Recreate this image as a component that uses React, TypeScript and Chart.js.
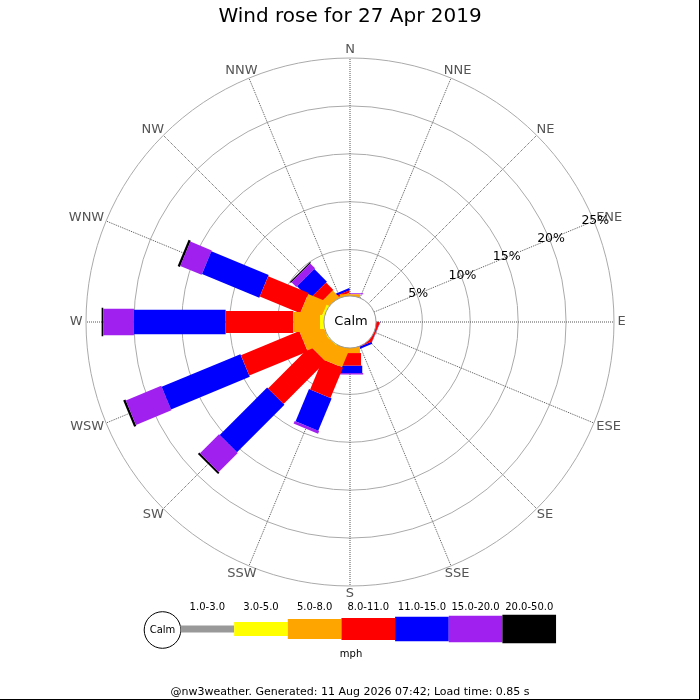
import React, { useEffect, useRef } from 'react';
import { Chart, ArcElement, PolarAreaController, RadialLinearScale, Title, SubTitle } from 'chart.js';

// ---------- data ----------
const TITLE = 'Wind rose for 27 Apr 2019';
const FOOTER = '@nw3weather. Generated: 11 Aug 2026 07:42; Load time: 0.85 s';
const UNIT = 'mph';
const CALM_LABEL = 'Calm';
const DIRECTIONS = ['N', 'NNE', 'NE', 'ENE', 'E', 'ESE', 'SE', 'SSE', 'S', 'SSW', 'SW', 'WSW', 'W', 'WNW', 'NW', 'NNW'];
const SPEED_CLASSES = ['1.0-3.0', '3.0-5.0', '5.0-8.0', '8.0-11.0', '11.0-15.0', '15.0-20.0', '20.0-50.0'];
const CLASS_COLORS = ['#999999', '#ffff00', '#ffa500', '#ff0000', '#0000ff', '#a020f0', '#000000'];
const CLASS_BAR_WIDTHS = [7, 14, 20, 22, 24.5, 26.5, 28.5];
// percentage of the day per direction (N ... NNW) for each speed class
const SPEED_1_3 = [0, 0, 0, 0, 0, 0, 0, 0, 0, 0, 0.05, 0.05, 0.08, 0.05, 0, 0];
const SPEED_3_5 = [0, 0, 0, 0, 0, 0, 0, 0, 0.05, 0.1, 0.15, 0.15, 0.5, 0.35, 0.1, 0];
const SPEED_5_8 = [0.34, 0, 0, 0, 0, 0, 0, 0, 0.64, 2.04, 1.95, 2.5, 2.79, 2.2, 0.94, 0.3];
const SPEED_8_11 = [0, 0, 0, 0, 0, 0.35, 0, 0.2, 1.31, 3.41, 6.25, 6.6, 7.06, 4.57, 1.09, 0.22];
const SPEED_11_15 = [0, 0, 0, 0, 0, 0.03, 0, 0.25, 0.78, 3.65, 7.0, 8.9, 9.57, 6.47, 1.86, 0.23];
const SPEED_15_20 = [0.11, 0, 0, 0, 0, 0, 0, 0, 0.15, 0.3, 2.8, 4.0, 3.2, 2.41, 0.71, 0];
const SPEED_20_50 = [0, 0, 0, 0, 0, 0, 0, 0, 0, 0, 0.21, 0.25, 0.17, 0.25, 0.13, 0];
const SPEED_SERIES = [SPEED_1_3, SPEED_3_5, SPEED_5_8, SPEED_8_11, SPEED_11_15, SPEED_15_20, SPEED_20_50];
const RADIAL_TICKS = [0, 5, 10, 15, 20, 25];
const RADIAL_MIN = -2.55;
const RADIAL_MAX = 25;
const TICK_LABEL_DIRECTION = 'ENE';

const FONT = '"DejaVu Sans", sans-serif';

// ---------- custom element: a straight radial bar ----------
class WindBar extends (ArcElement as any) {
  static id = 'windBar';
  draw(ctx: CanvasRenderingContext2D) {
    const self: any = this;
    const len = self.outerRadius - self.innerRadius;
    if (!(len > 0.001)) return;
    ctx.save();
    ctx.translate(self.x, self.y);
    ctx.rotate(self.direction);
    ctx.fillStyle = self.options.backgroundColor;
    ctx.fillRect(self.innerRadius, -self.barWidth / 2, len, self.barWidth);
    ctx.restore();
  }
}

// ---------- custom controller: stacked wind-rose bars ----------
class WindRoseController extends (PolarAreaController as any) {
  static id = 'windRose';
  static defaults = { ...(PolarAreaController as any).defaults, dataElementType: 'windBar' };
  updateElements(arcs: any[], start: number, count: number, mode: any) {
    super.updateElements(arcs, start, count, mode);
    const self: any = this;
    const scale = self._cachedMeta.rScale;
    const datasets = self.chart.data.datasets;
    const ds = self.getDataset();
    for (let i = start; i < start + count; i++) {
      let base = 0;
      for (let j = 0; j < self.index; j++) base += Number(datasets[j].data[i]) || 0;
      const value = Number(ds.data[i]) || 0;
      const arc = arcs[i];
      arc.direction = scale.getIndexAngle(i) - Math.PI / 2;
      arc.innerRadius = scale.getDistanceFromCenterForValue(base);
      arc.outerRadius = scale.getDistanceFromCenterForValue(base + value);
      arc.barWidth = ds.barWidth;
    }
  }
}

Chart.register(RadialLinearScale, Title, SubTitle, WindBar as any, WindRoseController as any);

// ---------- decorations ----------
const windRoseDecor = {
  id: 'windRoseDecor',
  afterDatasetsDraw(chart: any) {
    const ctx: CanvasRenderingContext2D = chart.ctx;
    const r = chart.scales.r;
    const R = r.drawingArea;
    ctx.save();
    ctx.textAlign = 'center';
    ctx.textBaseline = 'middle';

    // compass point labels
    ctx.font = `13px ${FONT}`;
    ctx.fillStyle = '#555555';
    (chart.data.labels as string[]).forEach((label, i) => {
      const p = r.getPointPosition(i, R + 3.5);
      const a = r.getIndexAngle(i);
      const w = ctx.measureText(label).width;
      ctx.fillText(label, p.x + (Math.sin(a) * w) / 2, p.y - Math.cos(a) * 4.6);
    });

    // percentage labels along ENE
    const ti = (chart.data.labels as string[]).indexOf(TICK_LABEL_DIRECTION);
    ctx.font = `12.5px ${FONT}`;
    ctx.fillStyle = '#000000';
    r.ticks.forEach((t: any) => {
      if (t.value <= 0) return;
      const p = r.getPointPosition(ti, r.getDistanceFromCenterForValue(t.value) + 1.5);
      ctx.fillText(`${t.value}%`, p.x, p.y);
    });

    // calm circle
    const cr = r.getDistanceFromCenterForValue(0) + 1.6;
    ctx.beginPath();
    ctx.arc(r.xCenter, r.yCenter, cr, 0, Math.PI * 2);
    ctx.fillStyle = '#ffffff';
    ctx.fill();
    ctx.lineWidth = 1;
    ctx.strokeStyle = '#999999';
    ctx.stroke();
    ctx.fillStyle = '#000000';
    ctx.font = `13px ${FONT}`;
    ctx.fillText(CALM_LABEL, r.xCenter + 1, r.yCenter);
    ctx.restore();
  },
  afterDraw(chart: any) {
    const ctx: CanvasRenderingContext2D = chart.ctx;
    const L = { calmX: 162.5, calmY: 630, calmR: 18.3, x0: 180.5, segW: 53.65, barY: 629, labelY: 607, unitY: 654 };
    ctx.save();
    ctx.textAlign = 'center';
    ctx.textBaseline = 'middle';
    // legend calm circle
    ctx.beginPath();
    ctx.arc(L.calmX, L.calmY, L.calmR, 0, Math.PI * 2);
    ctx.fillStyle = '#ffffff';
    ctx.fill();
    ctx.lineWidth = 1;
    ctx.strokeStyle = '#000000';
    ctx.stroke();
    ctx.fillStyle = '#000000';
    ctx.font = `10px ${FONT}`;
    ctx.fillText(CALM_LABEL, L.calmX, L.calmY);
    // legend bars
    chart.data.datasets.forEach((ds: any, k: number) => {
      const x = L.x0 + k * L.segW;
      ctx.fillStyle = ds.backgroundColor;
      ctx.fillRect(x, L.barY - ds.barWidth / 2, L.segW, ds.barWidth);
      ctx.fillStyle = '#000000';
      ctx.fillText(ds.label, x + L.segW / 2, L.labelY);
    });
    ctx.fillText(UNIT, 351, L.unitY);
    // frame shadow
    ctx.strokeStyle = '#000000';
    ctx.lineWidth = 1;
    ctx.beginPath();
    ctx.moveTo(699.5, 0);
    ctx.lineTo(699.5, 700);
    ctx.moveTo(0, 699.5);
    ctx.lineTo(700, 699.5);
    ctx.stroke();
    ctx.restore();
  },
};

export default function App() {
  const ref = useRef<HTMLCanvasElement>(null);
  useEffect(() => {
    if (!ref.current) return;
    Chart.defaults.font.family = FONT;
    const chart = new Chart(ref.current, {
      type: 'windRose' as any,
      data: {
        labels: DIRECTIONS,
        datasets: SPEED_SERIES.map((values, k) => ({
          label: SPEED_CLASSES[k],
          data: values,
          backgroundColor: CLASS_COLORS[k],
          barWidth: CLASS_BAR_WIDTHS[k],
        })) as any,
      },
      options: {
        responsive: false,
        animation: false,
        events: [],
        layout: { padding: { left: 86, right: 86, top: 0, bottom: 0 } },
        scales: {
          r: {
            type: 'radialLinear',
            min: RADIAL_MIN,
            max: RADIAL_MAX,
            startAngle: 0,
            afterBuildTicks: (scale: any) => {
              scale.ticks = RADIAL_TICKS.map((v) => ({ value: v }));
            },
            ticks: { display: false },
            grid: { circular: true, color: '#aaaaaa', lineWidth: 1 },
            angleLines: { display: true, color: '#555555', lineWidth: 1, borderDash: [1, 1] },
            pointLabels: { display: false },
          } as any,
        },
        plugins: {
          title: {
            display: true,
            text: TITLE,
            color: '#000000',
            font: { family: FONT, size: 20, weight: 'normal' },
            padding: { top: 5, bottom: 29 },
          },
          subtitle: {
            display: true,
            position: 'bottom',
            text: FOOTER,
            color: '#000000',
            font: { family: FONT, size: 11, weight: 'normal' },
            padding: { top: 99.4, bottom: 1.4 },
          },
        } as any,
      } as any,
      plugins: [windRoseDecor],
    });
    return () => chart.destroy();
  }, []);
  return (
    <div style={{ position: 'absolute', left: 0, top: 0, width: 700, height: 700, background: '#ffffff' }}>
      <canvas ref={ref} width={700} height={700} style={{ display: 'block', width: 700, height: 700 }} />
    </div>
  );
}
